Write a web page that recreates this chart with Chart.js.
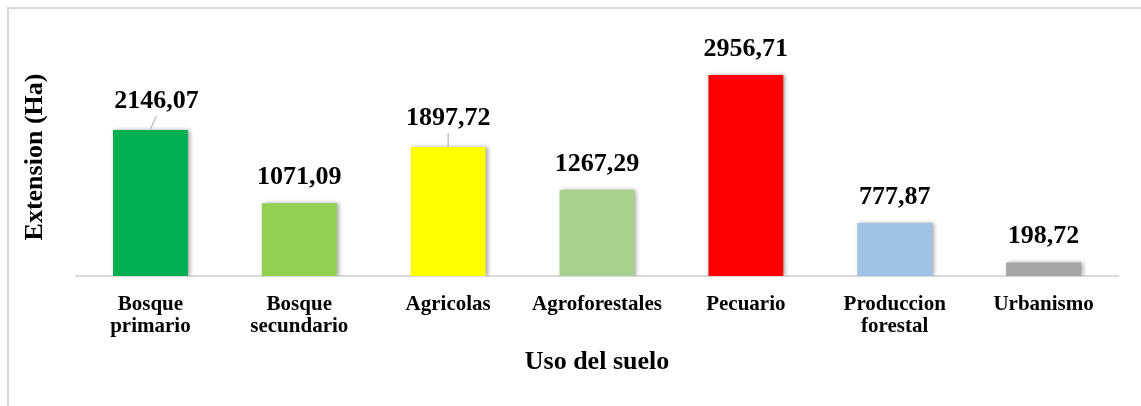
<!DOCTYPE html>
<html>
<head>
<meta charset="utf-8">
<script src="https://cdn.jsdelivr.net/npm/chart.js@4.4.1/dist/chart.umd.min.js"></script>
<style>
    html, body { margin: 0; padding: 0; background: #fff; overflow: hidden; }
    #frame { position: absolute; left: 7px; top: 7px; width: 1300px; height: 600px; border: 2px solid #d9d9d9; }
    #wrap { position: absolute; left: 0; top: 0; width: 1141px; height: 406px; }
</style>
</head>
<body>
<div id="frame"></div>
<div id="wrap"><canvas id="usoChart"></canvas></div>
<script>
var categories = [['Bosque', 'primario'], ['Bosque', 'secundario'], 'Agricolas', 'Agroforestales', 'Pecuario', ['Produccion', 'forestal'], 'Urbanismo'];
var extension = [2146.07, 1071.09, 1897.72, 1267.29, 2956.71, 777.87, 198.72];
var barColors = ['#00B050', '#92D050', '#FFFF00', '#A9D18E', '#FF0000', '#9DC3E6', '#A5A5A5'];

// label nudges (dx, extra lift, leader line) for the two labels Excel moved
var labelNudge = { 0: { dx: 6, lift: 3, leader: true }, 2: { dx: 0, lift: 3, leader: true } };

function fmt(v) {
    return v.toFixed(2).replace('.', ',');
}

var barShadow = {
    id: 'barShadow',
    beforeDatasetsDraw: function (chart) {
        var ctx = chart.ctx;
        ctx.save();
        ctx.shadowColor = 'rgba(0,0,0,0.35)';
        ctx.shadowBlur = 4;
        ctx.shadowOffsetX = 2;
        ctx.shadowOffsetY = 0;
    },
    afterDatasetsDraw: function (chart) {
        chart.ctx.restore();
    }
};

var valueLabels = {
    id: 'valueLabels',
    afterDraw: function (chart) {
        var ctx = chart.ctx;
        var meta = chart.getDatasetMeta(0);
        ctx.save();
        ctx.font = 'bold 26px "Liberation Serif", "Times New Roman", serif';
        ctx.fillStyle = '#000';
        ctx.textAlign = 'center';
        ctx.textBaseline = 'alphabetic';
        meta.data.forEach(function (bar, i) {
            var n = labelNudge[i] || { dx: 0, lift: 0, leader: false };
            var x = bar.x + n.dx;
            var y = bar.y - 19 - n.lift;
            ctx.fillText(fmt(extension[i]), x, y);
            if (n.leader) {
                ctx.strokeStyle = '#a6a6a6';
                ctx.lineWidth = 1;
                ctx.beginPath();
                ctx.moveTo(x, y + 8);
                ctx.lineTo(bar.x, bar.y - 1);
                ctx.stroke();
            }
        });
        ctx.restore();
    }
};

document.addEventListener("DOMContentLoaded", function () {
    var ctx = document.getElementById('usoChart').getContext('2d');
    var usoChart = new Chart(ctx, {
        type: 'bar',
        data: {
            labels: categories,
            datasets: [{
                label: 'Extension (Ha)',
                data: extension,
                backgroundColor: barColors,
                borderWidth: 0,
                categoryPercentage: 1,
                barPercentage: 0.503
            }]
        },
        options: {
            responsive: true,
            maintainAspectRatio: false,
            animation: false,
            layout: { padding: { top: 38, right: 23, bottom: 0, left: 0 } },
            plugins: {
                legend: { display: false },
                tooltip: { enabled: false }
            },
            scales: {
                x: {
                    grid: { display: false },
                    border: { display: true, color: '#d9d9d9', width: 2 },
                    ticks: {
                        color: '#000',
                        padding: 10,
                        maxRotation: 0,
                        font: { family: '"Liberation Serif", "Times New Roman", serif', weight: 'bold', size: 21, lineHeight: 1.05 }
                    },
                    title: {
                        display: true,
                        text: 'Uso del suelo',
                        color: '#000',
                        padding: { top: 0, bottom: 28 },
                        font: { family: '"Liberation Serif", "Times New Roman", serif', weight: 'bold', size: 26 }
                    },
                    afterFit: function (scale) { scale.height = 130; }
                },
                y: {
                    min: 0,
                    max: 3500,
                    grid: { display: false },
                    border: { display: false },
                    ticks: { display: false },
                    title: {
                        display: true,
                        text: 'Extension (Ha)',
                        color: '#000',
                        padding: { top: 20, bottom: 0 },
                        font: { family: '"Liberation Serif", "Times New Roman", serif', weight: 'bold', size: 26 }
                    },
                    afterFit: function (scale) { scale.width = 76; }
                }
            }
        },
        plugins: [barShadow, valueLabels]
    });
});
</script>
</body>
</html>
